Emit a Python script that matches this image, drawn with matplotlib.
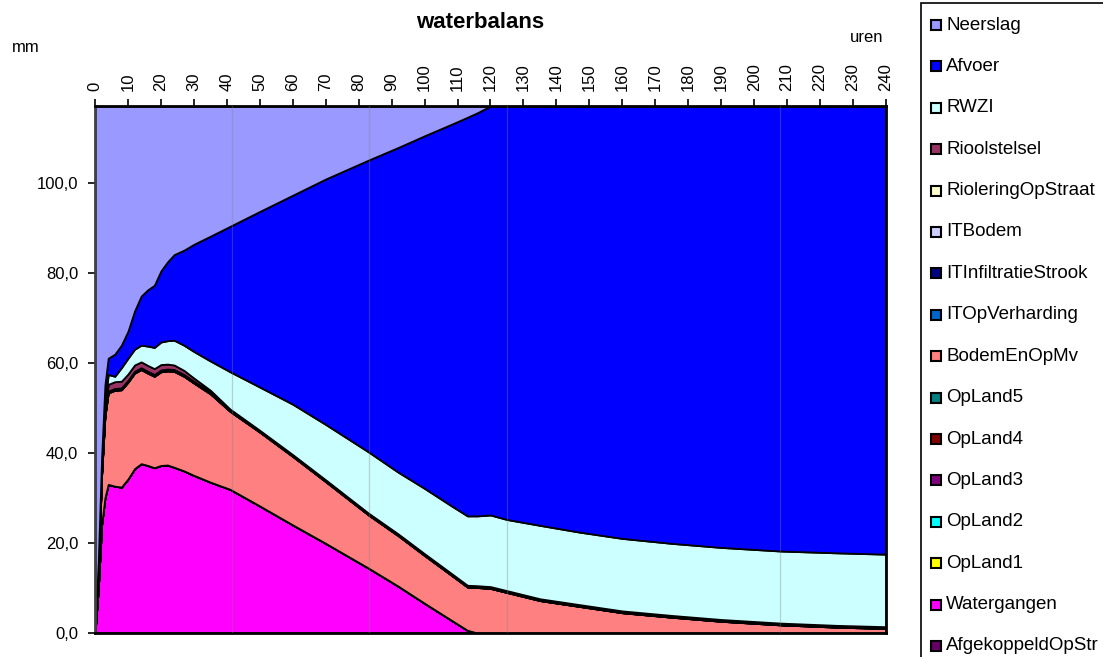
import numpy as np
import matplotlib
matplotlib.use("Agg")
import matplotlib.pyplot as plt
from matplotlib.patches import Rectangle
from matplotlib.ticker import FuncFormatter

plt.rcParams['font.family'] = ['Liberation Sans', 'DejaVu Sans']

# ---------- data (uren, mm) ----------
uren = [0, 1, 2, 3, 4, 6, 8, 10, 12, 14, 16, 18, 20, 22, 24, 27, 30, 35, 41, 50,
        60, 70, 83, 92, 100, 108, 113, 116, 120, 125, 135, 147, 160, 175, 190, 208, 225, 240]

watergangen = [0, 10, 24, 30, 33, 32.6, 32.4, 34.2, 36.5, 37.6, 37.2, 36.7, 37.2, 37.3, 36.8, 36.0, 35.0, 33.5, 31.9, 28.2,
               24.0, 19.9, 14.4, 10.4, 6.6, 2.9, 0.6, 0, 0, 0, 0, 0, 0, 0, 0, 0, 0, 0]
bodem_en_op_mv = [0, 4, 11, 18, 20.3, 21.3, 21.6, 21.5, 21.2, 20.9, 20.5, 20.3, 20.8, 20.9, 21.3, 21.0, 20.5, 19.6, 17.3, 16.4,
                  15.2, 13.7, 11.8, 11.2, 10.6, 10.0, 9.6, 10.1, 9.9, 9.0, 7.2, 5.9, 4.5, 3.5, 2.6, 1.8, 1.3, 1.0]
it_infiltratie = [0, 0.2, 0.4, 0.4, 0.4, 0.4, 0.4, 0.4, 0.4, 0.4, 0.4, 0.4, 0.4, 0.4, 0.4, 0.4, 0.4, 0.4, 0.4, 0.4,
                  0.4, 0.4, 0.4, 0.4, 0.4, 0.4, 0.4, 0.4, 0.4, 0.4, 0.4, 0.4, 0.4, 0.4, 0.4, 0.4, 0.4, 0.4]
rioolstelsel = [0, 0.3, 0.8, 1.2, 1.5, 1.5, 1.5, 1.4, 1.4, 1.3, 1.3, 1.3, 1.2, 1.1, 1.0, 0.9, 0.7, 0.4, 0.1, 0,
                0, 0, 0, 0, 0, 0, 0, 0, 0, 0, 0, 0, 0, 0, 0, 0, 0, 0]
rwzi = [0, 0.5, 0.8, 1.4, 2.2, 1.2, 3.0, 3.5, 3.5, 3.7, 4.3, 4.7, 5.0, 5.2, 5.5, 5.6, 5.9, 6.5, 8.3, 9.6,
        11.2, 12.3, 13.6, 13.7, 14.5, 15.0, 15.4, 15.5, 15.9, 15.8, 16.3, 16.1, 16.1, 16.0, 16.0, 16.0, 16.1, 16.1]
afvoer = [0, 1, 2, 4, 3.6, 4.9, 5.0, 6.0, 8.5, 10.9, 12.5, 13.8, 15.8, 17.5, 19.0, 21.1, 23.8, 27.7, 32.3, 39.0,
          46.4, 54.5, 64.8, 72.1, 78.3, 84.6, 88.5, 89.5, 90.8, 91.8, 93.1, 94.6, 96.0, 97.1, 98.0, 98.8, 99.2, 99.5]
neerslag = [117, 101, 78, 62, 56.0, 55.1, 53.1, 50.0, 45.5, 42.2, 40.8, 39.8, 36.6, 34.6, 33.0, 32.0, 30.7, 28.9, 26.7, 23.4,
            19.8, 16.2, 12.0, 9.2, 6.6, 4.1, 2.5, 1.5, 0, 0, 0, 0, 0, 0, 0, 0, 0, 0]
nul = [0] * len(uren)

# onder -> boven, zoals gestapeld in de grafiek
series_names = ['AfgekoppeldOpStr', 'Watergangen', 'OpLand1', 'OpLand2', 'OpLand3', 'OpLand4', 'OpLand5',
                'BodemEnOpMv', 'ITOpVerharding', 'ITInfiltratieStrook', 'ITBodem', 'RioleringOpStraat',
                'Rioolstelsel', 'RWZI', 'Afvoer', 'Neerslag']
series_values = [nul, watergangen, nul, nul, nul, nul, nul,
                 bodem_en_op_mv, nul, it_infiltratie, nul, nul,
                 rioolstelsel, rwzi, afvoer, neerslag]
series_colors = ['#660066', '#FF00FF', '#FFFF00', '#00FFFF', '#800080', '#800000', '#008080',
                 '#FF8080', '#0066CC', '#000080', '#CCCCFF', '#FFFFCC',
                 '#993366', '#CCFFFF', '#0000FF', '#9999FF']

x_ticks = list(range(0, 241, 10))
y_ticks = [0, 20, 40, 60, 80, 100]
grid_uren = [41.5, 83.2, 124.9, 207.7]
y_max = 117

# ---------- figuur ----------
W, H = 1103, 657
fig = plt.figure(figsize=(W / 100, H / 100), dpi=100)
ax = fig.add_axes([95 / W, 1 - 633 / H, (886 - 95) / W, (633 - 106) / H])

ax.stackplot(uren, *series_values, colors=series_colors, edgecolor='black', linewidth=1.3)
for g in grid_uren:
    ax.axvline(g, color='#808080', alpha=0.35, lw=0.9, zorder=3)

ax.set_xlim(0, 240)
ax.set_ylim(0, y_max)
ax.xaxis.tick_top()
ax.set_xticks(x_ticks)
ax.set_yticks(y_ticks)
ax.yaxis.set_major_formatter(FuncFormatter(lambda v, p: f"{v:.1f}".replace('.', ',')))
ax.tick_params(axis='x', rotation=90, labelsize=12, length=5, width=1.2, pad=6, colors='black')
ax.tick_params(axis='y', labelsize=12, length=5, width=1.2, pad=7, colors='black')
for s in ax.spines.values():
    s.set_linewidth(2)
    s.set_color('black')
ax.spines['left'].set_color('#404040')

fig.text(480 / W, 1 - 22 / H, 'waterbalans', ha='center', va='center', fontsize=16, fontweight='bold')
fig.text(12 / W, 1 - 47 / H, 'mm', ha='left', va='center', fontsize=12)
fig.text(883 / W, 1 - 38 / H, 'uren', ha='right', va='center', fontsize=12)

# ---------- legenda (rechts, deels buiten beeld) ----------
fig.patches.append(Rectangle((921 / W, 1 - 720 / H), 300 / W, 717 / H, transform=fig.transFigure,
                             facecolor='white', edgecolor='black', lw=1.2))
legend_names = series_names[::-1]
legend_colors = series_colors[::-1]
for i, (name, col) in enumerate(zip(legend_names, legend_colors)):
    yc = 25 + i * 41.4
    fig.patches.append(Rectangle((931 / W, 1 - (yc + 5) / H), 10 / W, 10 / H, transform=fig.transFigure,
                                 facecolor=col, edgecolor='black', lw=1.5))
    fig.text(946 / W, 1 - yc / H, name, ha='left', va='center', fontsize=13.5)

fig.savefig('out.png', dpi=100)
